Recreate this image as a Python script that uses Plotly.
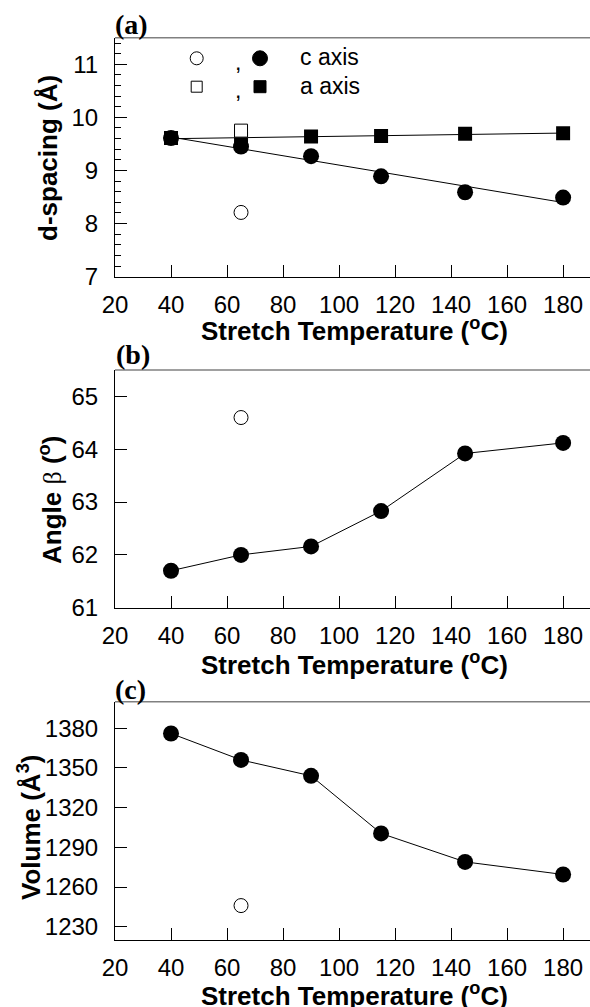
import numpy as np
import plotly.graph_objects as go

# ---------------- data ----------------
temps = [40, 65, 90, 115, 145, 180]
c_axis = [9.61, 9.45, 9.27, 8.89, 8.59, 8.49]
a_axis = [9.61, 9.60, 9.64, 9.65, 9.69, 9.70]
open_temp = [65]
c_axis_open = [8.21]
a_axis_open = [9.75]
beta = [61.70, 62.00, 62.16, 62.83, 63.92, 64.12]
beta_open = [64.60]
volume = [1376, 1356, 1344, 1300.5, 1279, 1269.5]
volume_open = [1246]

x_ticks = [20, 40, 60, 80, 100, 120, 140, 160, 180]
d_ticks = [7, 8, 9, 10, 11]
beta_ticks = [61, 62, 63, 64, 65]
vol_ticks = [1230, 1260, 1290, 1320, 1350, 1380]

W, H = 590, 1007
SANS = "Liberation Sans"
SERIF = "Liberation Serif"

fig = go.Figure()

# fit lines for panel (a)
xfit = np.array([min(temps), max(temps)])
pc = np.polyfit(temps, c_axis, 1)
pa = np.polyfit(temps, a_axis, 1)

line_style = dict(color="black", width=1)
fig.add_trace(go.Scatter(x=xfit, y=np.polyval(pa, xfit), mode="lines", line=line_style,
                         xaxis="x", yaxis="y", showlegend=False, hoverinfo="skip"))
fig.add_trace(go.Scatter(x=xfit, y=np.polyval(pc, xfit), mode="lines", line=line_style,
                         xaxis="x", yaxis="y", showlegend=False, hoverinfo="skip"))

filled_circle = dict(symbol="circle", size=16, color="black", line=dict(width=0))
open_circle = dict(symbol="circle", size=14, color="white", line=dict(width=1, color="black"))
filled_square = dict(symbol="square", size=14, color="black", line=dict(width=0))
open_square = dict(symbol="square", size=13, color="white", line=dict(width=1, color="black"))

fig.add_trace(go.Scatter(x=temps, y=a_axis, mode="markers", marker=filled_square,
                         xaxis="x", yaxis="y", showlegend=False))
fig.add_trace(go.Scatter(x=temps, y=c_axis, mode="markers", marker=filled_circle,
                         xaxis="x", yaxis="y", showlegend=False))
fig.add_trace(go.Scatter(x=open_temp, y=a_axis_open, mode="markers", marker=open_square,
                         xaxis="x", yaxis="y", showlegend=False))
fig.add_trace(go.Scatter(x=open_temp, y=c_axis_open, mode="markers", marker=open_circle,
                         xaxis="x", yaxis="y", showlegend=False))

# panel (b)
fig.add_trace(go.Scatter(x=temps, y=beta, mode="lines+markers", line=line_style,
                         marker=filled_circle, xaxis="x2", yaxis="y2", showlegend=False))
fig.add_trace(go.Scatter(x=open_temp, y=beta_open, mode="markers", marker=open_circle,
                         xaxis="x2", yaxis="y2", showlegend=False))

# panel (c)
fig.add_trace(go.Scatter(x=temps, y=volume, mode="lines+markers", line=line_style,
                         marker=filled_circle, xaxis="x3", yaxis="y3", showlegend=False))
fig.add_trace(go.Scatter(x=open_temp, y=volume_open, mode="markers", marker=open_circle,
                         xaxis="x3", yaxis="y3", showlegend=False))

x_left = 115 / W
xrange = [20, 189.6]


def px2y(py):
    return (H - py) / H


def xax(anchor):
    return dict(domain=[x_left, 1.0], range=xrange, tickvals=x_ticks, ticks="inside",
                ticklen=12, tickwidth=1, tickcolor="black", showline=True, linecolor="black",
                linewidth=1, showgrid=False, zeroline=False, anchor=anchor, automargin=False,
                tickfont=dict(family=SANS, size=24, color="black"), ticklabelstandoff=6)


def yax(anchor, dom, rng, tv, minor=None):
    d = dict(domain=dom, range=rng, tickvals=tv, ticks="inside", ticklen=12, tickwidth=1,
             tickcolor="black", showline=True, linecolor="black", linewidth=1,
             showgrid=False, zeroline=False, anchor=anchor, automargin=False,
             tickfont=dict(family=SANS, size=24, color="black"), ticklabelstandoff=11)
    if minor:
        d["minor"] = minor
    return d


dom_a = [px2y(276.7), px2y(37.7)]
dom_b = [px2y(607.7), px2y(370)]
dom_c = [px2y(940), px2y(701.7)]

fig.update_layout(
    width=W, height=H, margin=dict(l=0, r=0, t=0, b=0, autoexpand=False),
    paper_bgcolor="white", plot_bgcolor="white",
    xaxis=xax("y"), xaxis2=xax("y2"), xaxis3=xax("y3"),
    yaxis=yax("x", dom_a, [7, 11.5], d_ticks,
              minor=dict(ticks="inside", ticklen=6, dtick=0.2, tickcolor="black",
                         tickwidth=1, showgrid=False)),
    yaxis2=yax("x2", dom_b, [61, 65.5], beta_ticks),
    yaxis3=yax("x3", dom_c, [1220, 1400], vol_ticks),
)

shapes = []
for ya in ["y", "y2", "y3"]:
    xa = {"y": "x", "y2": "x2", "y3": "x3"}[ya]
    shapes.append(dict(type="line", xref=xa + " domain", yref=ya + " domain",
                       x0=0, x1=1, y0=1, y1=1, line=dict(color="#808080", width=1.5)))

# legend glyphs
def glyph(kind, cx, cy, r, filled):
    return dict(type=kind, xref="paper", yref="paper", xsizemode="pixel", ysizemode="pixel",
                xanchor=cx / W, yanchor=px2y(cy), x0=-r, x1=r, y0=-r, y1=r,
                fillcolor="black" if filled else "white",
                line=dict(color="black", width=1))

shapes.append(glyph("circle", 196.7, 58.3, 6.5, False))
shapes.append(glyph("circle", 260, 58.3, 7.5, True))
shapes.append(glyph("rect", 196.7, 86.7, 5.5, False))
shapes.append(glyph("rect", 260, 86.7, 6, True))
fig.update_layout(shapes=shapes)

ann = []


def txt(text, x, y, size, family=SANS, angle=0, xanchor="center"):
    ann.append(dict(text=text, x=x / W, y=px2y(y), xref="paper", yref="paper",
                    showarrow=False, textangle=angle, xanchor=xanchor, yanchor="middle",
                    font=dict(family=family, size=size, color="black")))


# legend text
txt(",", 238, 62, 23)
txt(",", 238, 90, 23)
txt("c axis", 298, 57, 23, xanchor="left")
txt("a axis", 298, 86, 23, xanchor="left")

# panel labels
txt("<b>(a)</b>", 131, 25, 28, family=SERIF)
txt("<b>(b)</b>", 133, 355, 28, family=SERIF)
txt("<b>(c)</b>", 130, 689, 28, family=SERIF)

# x titles
xt = "<b>Stretch Temperature (<sup>o</sup>C)</b>"
txt(xt, 355, 329, 26)
txt(xt, 355, 663, 26)
txt(xt, 355, 994, 26)

# y titles
txt("<b>d-spacing (Å)</b>", 48, 158, 26, angle=-90)
txt("<b>Angle </b><span style='font-family:Liberation Serif'>β</span><b> (<sup>o</sup>)</b>",
    51, 500, 26, angle=-90)
txt("<b>Volume (Å<sup>3</sup>)</b>", 29, 828, 26, angle=-90)

fig.update_layout(annotations=ann)

fig.write_html(
    "out.html",
    config={"displayModeBar": False},
    post_script="document.documentElement.style.margin='0';document.body.style.margin='0';"
                "document.body.style.overflow='hidden';",
)
